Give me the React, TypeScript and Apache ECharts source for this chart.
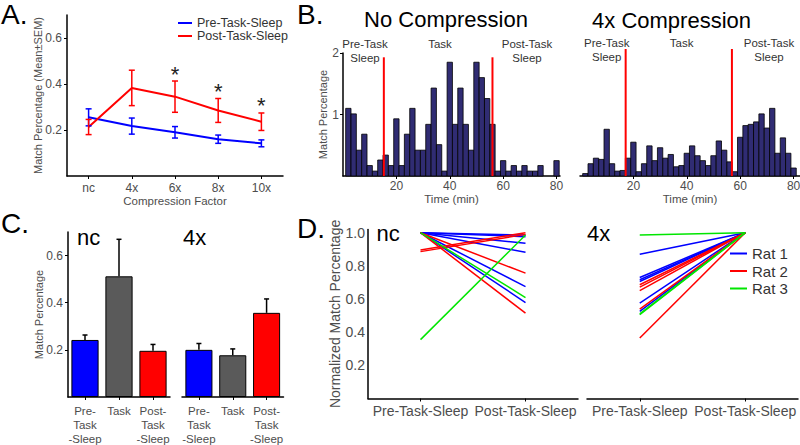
import React, { useEffect, useRef } from 'react';
import * as echarts from 'echarts';

const FONT = '"Liberation Sans", Arial, Helvetica, sans-serif';
const GREY = '#4d4d4d';
const BLUE = '#0000ff';
const RED = '#ff0000';
const GREEN = '#00e600';
const BAR_GREY = '#5a5a5a';
const HIST_FILL = '#302c73';

// ---------- Panel A ----------
const compressionFactors = ['nc', '4x', '6x', '8x', '10x'];
const preTaskMean = [0.255, 0.217, 0.19, 0.16, 0.142];
const preTaskSem = [0.037, 0.035, 0.025, 0.018, 0.015];
const postTaskMean = [0.213, 0.383, 0.345, 0.285, 0.236];
const postTaskSem = [0.033, 0.077, 0.068, 0.052, 0.038];
const significant = [false, false, true, true, true];
const aTicks = [0.2, 0.4, 0.6];

// ---------- Panel B ----------
const binCenters = [2, 4, 6, 8, 10, 12, 14, 16, 18, 20, 22, 24, 26, 28, 30, 32, 34, 36, 38, 40,
  42, 44, 46, 48, 50, 52, 54, 56, 58, 60, 62, 64, 66, 68, 70, 72, 74, 76, 78, 80];
const binWidth = 2;
const noCompression = [1.1, 1.01, 0.42, 0.68, 0.17, 0.08, 0.26, 0.34, 0.17, 0.93,
  0.17, 0.68, 1.1, 0.42, 0.42, 0.84, 1.43, 0.51, 0.08, 1.85,
  0.84, 1.43, 0.84, 0.42, 1.85, 1.6, 1.26, 0.84, 0.08, 0.25,
  0.08, 0.17, 0.08, 0.17, 0.08, 0.08, 0.17, 0, 0, 0.25];
const fourXCompression = [0.04, 0.2, 0.29, 0.27, 0.76, 0.2, 0.08, 0.09, 0.29, 0.55,
  0.07, 0.2, 0.49, 0.25, 0.46, 0.29, 0.35, 0.15, 0.17, 0.37,
  0.49, 0.33, 0.25, 0.17, 0.33, 0.57, 0.42, 0.23, 0.07, 0.63,
  0.82, 0.84, 0.88, 1.01, 0.78, 1.1, 0.37, 0.62, 0.37, 0.13];
const ncBoundaries = [15.3, 56];
const ncBoundaryTop = 1.93;
const fourXBoundaries = [17.1, 56.9];
const fourXBoundaryTop = 2.065;
const timeTicks = [20, 40, 60, 80];
const histTicks = [1, 2];

// ---------- Panel C ----------
const epochLabels = ['Pre-\nTask\n-Sleep', 'Task', 'Post-\nTask\n-Sleep'];
const epochColors = [BLUE, BAR_GREY, RED];
const ncEpochMean = [0.242, 0.512, 0.196];
const ncEpochSem = [0.021, 0.157, 0.027];
const fourXEpochMean = [0.2, 0.177, 0.357];
const fourXEpochSem = [0.027, 0.027, 0.059];
const cTicks = [0.2, 0.4, 0.6];

// ---------- Panel D ----------  pairs: [pre, post]
const sleepLabels = ['Pre-Task-Sleep', 'Post-Task-Sleep'];
const ncRat1 = [[1, 0.986], [1, 0.976], [1, 0.936], [1, 0.882], [1, 0.675], [1, 0.579]];
const ncRat2 = [[0.896, 1.0], [0.886, 0.99], [1, 0.756], [1, 0.515]];
const ncRat3 = [[0.355, 0.986], [1, 0.609]];
const fourXRat1 = [[0.87, 1], [0.73, 1], [0.716, 1], [0.706, 1], [0.575, 1], [0.525, 1]];
const fourXRat2 = [[0.686, 1], [0.672, 1], [0.651, 1], [0.539, 1], [0.365, 1]];
const fourXRat3 = [[0.986, 1], [0.511, 1], [0.505, 1]];
const dTicks = [0.2, 0.4, 0.6, 0.8, 1.0];

const axisLine = { show: true, lineStyle: { color: '#000', width: 1.5 } };
const tick = (values?: number[]) => ({ show: true, length: 3, lineStyle: { color: '#000', width: 1 }, ...(values ? { customValues: values } : {}) });

export default function App() {
  const ref = useRef<HTMLDivElement>(null);
  useEffect(() => {
    if (!ref.current) return;
    const chart = echarts.init(ref.current, undefined, { renderer: 'svg' });

    const histRender = (_p: any, api: any) => {
      const t = api.value(0);
      const v = api.value(1);
      if (!v) return { type: 'group', children: [] };
      const a = api.coord([t - binWidth / 2, 0]);
      const b = api.coord([t + binWidth / 2, v]);
      return {
        type: 'rect',
        shape: { x: a[0], y: b[1], width: b[0] - a[0], height: a[1] - b[1] },
        style: { fill: HIST_FILL, stroke: '#000', lineWidth: 0.8 },
      };
    };
    const boundaryRender = (_p: any, api: any) => {
      const a = api.coord([api.value(0), 0]);
      const b = api.coord([api.value(0), api.value(1)]);
      return { type: 'line', shape: { x1: a[0], y1: a[1], x2: b[0], y2: b[1] }, style: { stroke: RED, lineWidth: 2 } };
    };
    const errRender = (color: string, hw: number, lw: number) => (_p: any, api: any) => {
      const x = api.value(0);
      const m = api.value(1);
      const s = api.value(2);
      const oneSided = api.value(3) === 1;
      const top = api.coord([x, m + s]);
      const bot = api.coord([x, oneSided ? m : m - s]);
      const children: any[] = [
        { type: 'line', shape: { x1: top[0], y1: top[1], x2: bot[0], y2: bot[1] }, style: { stroke: color, lineWidth: lw } },
        { type: 'line', shape: { x1: top[0] - hw, y1: top[1], x2: top[0] + hw, y2: top[1] }, style: { stroke: color, lineWidth: lw } },
      ];
      if (!oneSided) children.push({ type: 'line', shape: { x1: bot[0] - hw, y1: bot[1], x2: bot[0] + hw, y2: bot[1] }, style: { stroke: color, lineWidth: lw } });
      return { type: 'group', children };
    };
    const starRender = (_p: any, api: any) => {
      const p = api.coord([api.value(0), api.value(1)]);
      return { type: 'text', x: p[0], y: p[1] - 7, style: { text: '*', fontSize: 22, fill: '#222', align: 'center', verticalAlign: 'middle', fontFamily: FONT } };
    };

    const dLines = (pairs: number[][], name: string, color: string, axis: number) =>
      pairs.map((pr) => ({
        type: 'line', name, xAxisIndex: axis, yAxisIndex: axis, data: pr, symbol: 'none', silent: true,
        lineStyle: { color, width: 1.5 }, itemStyle: { color }, z: 3,
      }));

    const grids = [
      { left: 67, top: 15, width: 216, height: 161 },
      { left: 343, top: 53, width: 217, height: 123 },
      { left: 580, top: 53, width: 220, height: 123 },
      { left: 68, top: 232, width: 102, height: 165 },
      { left: 182, top: 232, width: 101.5, height: 165 },
      { left: 368, top: 229.4, width: 210, height: 169.1 },
      { left: 587, top: 229.4, width: 211, height: 169.1 },
    ].map((g) => ({ ...g, outerBoundsMode: 'none', containLabel: false }));

    const catX = (gridIndex: number, data: string[], fontSize: number, margin: number, extra: any = {}) => ({
      type: 'category', gridIndex, data, boundaryGap: true, axisLine,
      axisTick: { ...tick(), alignWithLabel: true },
      axisLabel: { fontSize, color: GREY, margin, interval: 0, fontFamily: FONT },
      splitLine: { show: false }, nameMoveOverlap: false, ...extra,
    });
    const valY = (gridIndex: number, min: number, max: number, ticks: number[], decimals: number, fontSize: number, margin: number, extra: any = {}) => ({
      type: 'value', gridIndex, min, max, axisLine,
      axisTick: tick(ticks),
      axisLabel: { customValues: ticks, fontSize, color: GREY, margin, fontFamily: FONT, formatter: (v: number) => v.toFixed(decimals) },
      splitLine: { show: false }, nameMoveOverlap: false, ...extra,
    });
    const hiddenY = (gridIndex: number, min: number, max: number) => ({
      type: 'value', gridIndex, min, max, show: false, splitLine: { show: false },
    });
    const timeX = (gridIndex: number, min: number, max: number) => ({
      type: 'value', gridIndex, min, max, axisLine,
      axisTick: tick(timeTicks),
      axisLabel: { customValues: timeTicks, fontSize: 12, color: GREY, margin: 4, fontFamily: FONT },
      splitLine: { show: false }, nameMoveOverlap: false,
      name: 'Time (min)', nameLocation: 'middle', nameGap: 17,
      nameTextStyle: { fontSize: 11.5, color: GREY, fontFamily: FONT },
    });

    const option: any = {
      animation: false,
      textStyle: { fontFamily: FONT },
      grid: grids,
      legend: [
        {
          data: ['Pre-Task-Sleep', 'Post-Task-Sleep'], orient: 'vertical', left: 178, top: 16.5, padding: 0,
          icon: 'rect', itemWidth: 14, itemHeight: 2, itemGap: 0, selectedMode: false,
          textStyle: { fontSize: 12.5, color: '#333', fontFamily: FONT },
        },
        {
          data: ['Rat 1', 'Rat 2', 'Rat 3'], orient: 'vertical', left: 730, top: 246, padding: 0,
          icon: 'rect', itemWidth: 17, itemHeight: 2, itemGap: 2.5, selectedMode: false,
          textStyle: { fontSize: 15, color: '#333', fontFamily: FONT },
        },
      ],
      xAxis: [
        catX(0, compressionFactors, 12, 6, {
          name: 'Compression Factor', nameLocation: 'middle', nameGap: 18.5,
          nameTextStyle: { fontSize: 11.5, color: GREY, fontFamily: FONT },
        }),
        timeX(1, 0, 81.3),
        timeX(2, 0, 82.4),
        catX(3, epochLabels, 11.5, 7, { axisLabel: { fontSize: 11.5, color: GREY, margin: 7, interval: 0, lineHeight: 14, fontFamily: FONT } }),
        catX(4, epochLabels, 11.5, 7, { axisLabel: { fontSize: 11.5, color: GREY, margin: 7, interval: 0, lineHeight: 14, fontFamily: FONT } }),
        catX(5, sleepLabels, 14, 5),
        catX(6, sleepLabels, 14, 5),
      ],
      yAxis: [
        valY(0, 0, 0.7, aTicks, 1, 12, 5, {
          name: 'Match Percentage (Mean±SEM)', nameLocation: 'middle', nameGap: 24,
          nameTextStyle: { fontSize: 11, color: GREY, fontFamily: FONT },
        }),
        valY(1, 0, 2, histTicks, 0, 12, 4, {
          name: 'Match Percentage', nameLocation: 'middle', nameGap: 15,
          nameTextStyle: { fontSize: 11, color: GREY, fontFamily: FONT },
        }),
        hiddenY(2, 0, 2),
        valY(3, 0, 0.7, cTicks, 1, 12, 5, {
          name: 'Match Percentage', nameLocation: 'middle', nameGap: 24,
          nameTextStyle: { fontSize: 11, color: GREY, fontFamily: FONT },
        }),
        hiddenY(4, 0, 0.7),
        valY(5, 0, 1.02, dTicks, 1, 14, 3, {
          axisTick: { show: false },
          name: 'Normalized Match Percentage', nameLocation: 'middle', nameGap: 26,
          nameTextStyle: { fontSize: 14, color: GREY, fontFamily: FONT },
        }),
        hiddenY(6, 0, 1.02),
      ],
      series: [
        // Panel A
        {
          type: 'line', name: 'Pre-Task-Sleep', xAxisIndex: 0, yAxisIndex: 0, data: preTaskMean,
          symbol: 'none', lineStyle: { color: BLUE, width: 2 }, itemStyle: { color: BLUE }, z: 3,
        },
        {
          type: 'line', name: 'Post-Task-Sleep', xAxisIndex: 0, yAxisIndex: 0, data: postTaskMean,
          symbol: 'none', lineStyle: { color: RED, width: 2 }, itemStyle: { color: RED }, z: 3,
        },
        {
          type: 'custom', xAxisIndex: 0, yAxisIndex: 0, renderItem: errRender(BLUE, 3, 1.5), z: 4,
          data: preTaskMean.map((m, i) => [i, m, preTaskSem[i], 0]),
        },
        {
          type: 'custom', xAxisIndex: 0, yAxisIndex: 0, renderItem: errRender(RED, 3, 1.5), z: 4,
          data: postTaskMean.map((m, i) => [i, m, postTaskSem[i], 0]),
        },
        {
          type: 'custom', xAxisIndex: 0, yAxisIndex: 0, renderItem: starRender, z: 5,
          data: postTaskMean.map((m, i) => [i, m + postTaskSem[i]]).filter((_d, i) => significant[i]),
        },
        // Panel B
        {
          type: 'custom', xAxisIndex: 1, yAxisIndex: 1, renderItem: histRender,
          data: binCenters.map((t, i) => [t, noCompression[i]]),
        },
        {
          type: 'custom', xAxisIndex: 1, yAxisIndex: 1, renderItem: boundaryRender, z: 5,
          data: ncBoundaries.map((t) => [t, ncBoundaryTop]),
        },
        {
          type: 'custom', xAxisIndex: 2, yAxisIndex: 2, renderItem: histRender,
          data: binCenters.map((t, i) => [t, fourXCompression[i]]),
        },
        {
          type: 'custom', xAxisIndex: 2, yAxisIndex: 2, renderItem: boundaryRender, z: 5,
          data: fourXBoundaries.map((t) => [t, fourXBoundaryTop]),
        },
        // Panel C
        {
          type: 'bar', xAxisIndex: 3, yAxisIndex: 3, barWidth: '80%',
          data: ncEpochMean.map((v, i) => ({ value: v, itemStyle: { color: epochColors[i], borderColor: '#000', borderWidth: 1 } })),
        },
        {
          type: 'custom', xAxisIndex: 3, yAxisIndex: 3, renderItem: errRender('#000', 2.5, 1.5), z: 1,
          data: ncEpochMean.map((m, i) => [i, m, ncEpochSem[i], 1]),
        },
        {
          type: 'bar', xAxisIndex: 4, yAxisIndex: 4, barWidth: '80%',
          data: fourXEpochMean.map((v, i) => ({ value: v, itemStyle: { color: epochColors[i], borderColor: '#000', borderWidth: 1 } })),
        },
        {
          type: 'custom', xAxisIndex: 4, yAxisIndex: 4, renderItem: errRender('#000', 2.5, 1.5), z: 1,
          data: fourXEpochMean.map((m, i) => [i, m, fourXEpochSem[i], 1]),
        },
        // Panel D
        ...dLines(ncRat1, 'Rat 1', BLUE, 5),
        ...dLines(ncRat2, 'Rat 2', RED, 5),
        ...dLines(ncRat3, 'Rat 3', GREEN, 5),
        ...dLines(fourXRat1, 'Rat 1', BLUE, 6),
        ...dLines(fourXRat2, 'Rat 2', RED, 6),
        ...dLines(fourXRat3, 'Rat 3', GREEN, 6),
      ],
      graphic: [
        { type: 'text', x: 1, y: 14.5, style: { text: 'A.', fontSize: 28, fill: '#000', verticalAlign: 'middle', fontFamily: FONT } },
        { type: 'text', x: 297, y: 14.5, style: { text: 'B.', fontSize: 28, fill: '#000', verticalAlign: 'middle', fontFamily: FONT } },
        { type: 'text', x: 1, y: 223, style: { text: 'C.', fontSize: 28, fill: '#000', verticalAlign: 'middle', fontFamily: FONT } },
        { type: 'text', x: 297, y: 228, style: { text: 'D.', fontSize: 28, fill: '#000', verticalAlign: 'middle', fontFamily: FONT } },
        { type: 'text', x: 446, y: 19.5, style: { text: 'No Compression', fontSize: 22, fill: '#000', align: 'center', verticalAlign: 'middle', fontFamily: FONT } },
        { type: 'text', x: 671.5, y: 20, style: { text: '4x Compression', fontSize: 22, fill: '#000', align: 'center', verticalAlign: 'middle', fontFamily: FONT } },
        { type: 'text', x: 365, y: 51.3, style: { text: 'Pre-Task\nSleep', fontSize: 11.5, lineHeight: 14, fill: '#333', align: 'center', verticalAlign: 'middle', fontFamily: FONT } },
        { type: 'text', x: 440, y: 44.3, style: { text: 'Task', fontSize: 11.5, fill: '#333', align: 'center', verticalAlign: 'middle', fontFamily: FONT } },
        { type: 'text', x: 527, y: 51.3, style: { text: 'Post-Task\nSleep', fontSize: 11.5, lineHeight: 14, fill: '#333', align: 'center', verticalAlign: 'middle', fontFamily: FONT } },
        { type: 'text', x: 606.7, y: 49.7, style: { text: 'Pre-Task\nSleep', fontSize: 11.5, lineHeight: 14, fill: '#333', align: 'center', verticalAlign: 'middle', fontFamily: FONT } },
        { type: 'text', x: 681.7, y: 42.7, style: { text: 'Task', fontSize: 11.5, fill: '#333', align: 'center', verticalAlign: 'middle', fontFamily: FONT } },
        { type: 'text', x: 769, y: 49.7, style: { text: 'Post-Task\nSleep', fontSize: 11.5, lineHeight: 14, fill: '#333', align: 'center', verticalAlign: 'middle', fontFamily: FONT } },
        { type: 'text', x: 77, y: 237, style: { text: 'nc', fontSize: 22, fill: '#000', verticalAlign: 'middle', fontFamily: FONT } },
        { type: 'text', x: 183, y: 237, style: { text: '4x', fontSize: 22, fill: '#000', verticalAlign: 'middle', fontFamily: FONT } },
        { type: 'text', x: 376.5, y: 233, style: { text: 'nc', fontSize: 22, fill: '#000', verticalAlign: 'middle', fontFamily: FONT } },
        { type: 'text', x: 587, y: 233, style: { text: '4x', fontSize: 22, fill: '#000', verticalAlign: 'middle', fontFamily: FONT } },
      ],
    };
    chart.setOption(option);
    return () => chart.dispose();
  }, []);
  return <div ref={ref} style={{ position: 'fixed', left: 0, top: 0, width: 800, height: 445, background: '#fff' }} />;
}
